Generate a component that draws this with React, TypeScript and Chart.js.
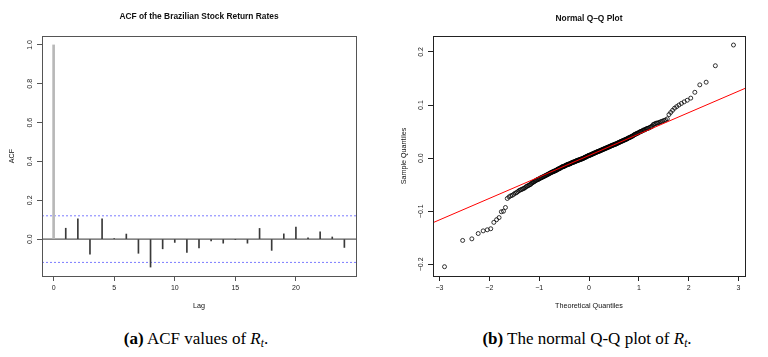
import React, { useEffect, useRef } from "react";
import { Chart, registerables } from "chart.js";
Chart.register(...registerables);

// ---------- DATA ----------
const ACF_LAGS = [0, 1, 2, 3, 4, 5, 6, 7, 8, 9, 10, 11, 12, 13, 14, 15, 16, 17, 18, 19, 20, 21, 22, 23, 24];
const ACF_VALUES = [1.0, 0.056, 0.104, -0.078, 0.104, 0.002, 0.026, -0.073, -0.144, -0.050, -0.017, -0.068, -0.046, -0.009, -0.021, -0.002, -0.021, 0.055, -0.058, 0.027, 0.062, 0.007, 0.038, 0.011, -0.043];
const ACF_CI = 0.12;
const ACF_X_TICKS = [0, 5, 10, 15, 20];
const ACF_X_LABELS = ["0", "5", "10", "15", "20"];
const ACF_Y_TICKS = [0, 0.2, 0.4, 0.6, 0.8, 1.0];
const ACF_Y_LABELS = ["0.0", "0.2", "0.4", "0.6", "0.8", "1.0"];

// sorted sample quantiles
const QQ_SAMPLE = [
  -0.2045, -0.155, -0.152, -0.142, -0.137, -0.135, -0.133, -0.121, -0.116, -0.112, -0.101, -0.100, -0.093, -0.076,
  -0.073, -0.071, -0.070, -0.068, -0.066, -0.065, -0.063, -0.061, -0.060, -0.059, -0.058,
  -0.057, -0.056, -0.054, -0.053, -0.052,
  -0.051, -0.050, -0.049, -0.047, -0.046,
  -0.045, -0.044, -0.043, -0.042, -0.041,
  -0.040, -0.040, -0.039, -0.038, -0.037,
  -0.037, -0.036, -0.035, -0.035, -0.034,
  -0.033, -0.033, -0.032, -0.031, -0.031, -0.030, -0.029, -0.029, -0.028, -0.027,
  -0.027, -0.026, -0.026, -0.025, -0.025, -0.024, -0.024, -0.023, -0.023, -0.022,
  -0.021, -0.021, -0.020, -0.020, -0.019, -0.019, -0.018, -0.017, -0.017, -0.016,
  -0.016, -0.016, -0.015, -0.015, -0.014, -0.014, -0.013, -0.013, -0.012, -0.012,
  -0.012, -0.011, -0.011, -0.011, -0.010, -0.010, -0.009, -0.009, -0.008, -0.008,
  -0.008, -0.007, -0.007, -0.007, -0.006, -0.006, -0.005, -0.005, -0.005, -0.004,
  -0.004, -0.004, -0.003, -0.003, -0.003, -0.002, -0.002, -0.002, -0.001, -0.001,
  -0.001, 0.000, 0.000, 0.001, 0.001, 0.002, 0.002, 0.002, 0.003, 0.0035,
  0.004, 0.004, 0.005, 0.005, 0.005, 0.006, 0.006, 0.006, 0.007, 0.007,
  0.008, 0.008, 0.008, 0.009, 0.009, 0.010, 0.010, 0.010, 0.011, 0.011,
  0.012, 0.012, 0.012, 0.013, 0.013, 0.013, 0.014, 0.014, 0.015, 0.015,
  0.015, 0.016, 0.016, 0.017, 0.017, 0.017, 0.018, 0.018, 0.019, 0.019,
  0.019, 0.020, 0.020, 0.021, 0.021, 0.021, 0.022, 0.022, 0.023, 0.023,
  0.024, 0.024, 0.024, 0.025, 0.025, 0.026, 0.026, 0.026, 0.027, 0.027,
  0.028, 0.028, 0.029, 0.029, 0.030, 0.030, 0.031, 0.031, 0.032, 0.032,
  0.033, 0.033, 0.034, 0.034, 0.035, 0.035, 0.036, 0.036, 0.037, 0.038,
  0.038, 0.039, 0.039, 0.040, 0.041, 0.041, 0.042, 0.043, 0.044, 0.045,
  0.045, 0.046, 0.047, 0.047, 0.048, 0.049, 0.050, 0.050, 0.051, 0.052,
  0.053, 0.053, 0.054, 0.055, 0.056, 0.056, 0.057, 0.058, 0.059, 0.060,
  0.063, 0.064, 0.065, 0.066, 0.066, 0.067, 0.068, 0.069, 0.070, 0.071, 0.072, 0.074,
  0.082, 0.086, 0.090, 0.094, 0.097, 0.100, 0.103, 0.106, 0.109, 0.113, 0.124, 0.138, 0.143, 0.174, 0.213,
];
const QQLINE_INTERCEPT = 0.0049;
const QQLINE_SLOPE = 0.0404;
const QQ_X_TICKS = [-3, -2, -1, 0, 1, 2, 3];
const QQ_X_LABELS = ["\u22123", "\u22122", "\u22121", "0", "1", "2", "3"];
const QQ_Y_TICKS = [-0.2, -0.1, 0, 0.1, 0.2];
const QQ_Y_LABELS = ["\u22120.2", "\u22120.1", "0.0", "0.1", "0.2"];

// ---------- helpers ----------
function qnorm(p: number): number {
  const a = [-3.969683028665376e1, 2.209460984245205e2, -2.759285104469687e2, 1.38357751867269e2, -3.066479806614716e1, 2.506628277459239];
  const b = [-5.447609879822406e1, 1.615858368580409e2, -1.556989798598866e2, 6.680131188771972e1, -1.328068155288572e1];
  const c = [-7.784894002430293e-3, -3.223964580411365e-1, -2.400758277161838, -2.549732539343734, 4.374664141464968, 2.938163982698783];
  const d = [7.784695709041462e-3, 3.224671290700398e-1, 2.445134137142996, 3.754408661907416];
  const pl = 0.02425;
  if (p < pl) {
    const q = Math.sqrt(-2 * Math.log(p));
    return (((((c[0] * q + c[1]) * q + c[2]) * q + c[3]) * q + c[4]) * q + c[5]) / ((((d[0] * q + d[1]) * q + d[2]) * q + d[3]) * q + 1);
  }
  if (p > 1 - pl) {
    const q = Math.sqrt(-2 * Math.log(1 - p));
    return -(((((c[0] * q + c[1]) * q + c[2]) * q + c[3]) * q + c[4]) * q + c[5]) / ((((d[0] * q + d[1]) * q + d[2]) * q + d[3]) * q + 1);
  }
  const q = p - 0.5;
  const r = q * q;
  return ((((((a[0] * r + a[1]) * r + a[2]) * r + a[3]) * r + a[4]) * r + a[5]) * q) / (((((b[0] * r + b[1]) * r + b[2]) * r + b[3]) * r + b[4]) * r + 1);
}

const FONT = '"Liberation Sans", Arial, Helvetica, sans-serif';
const PANEL_W = 384;
const PANEL_H = 320;

type TextCfg = {
  title: string;
  titleY: number;
  xTitle: string;
  xTitleY: number;
  yTitle: string;
  yTitleX: number;
  yLabelX: number;
  yTicks: number[];
  yLabels: string[];
  boxColor: string;
};

function panelPlugin(cfg: TextCfg) {
  return {
    id: "panelText",
    afterDraw(chart: any) {
      const { ctx, chartArea: a, scales } = chart;
      ctx.save();
      ctx.strokeStyle = cfg.boxColor;
      ctx.lineWidth = 1;
      ctx.setLineDash([]);
      ctx.strokeRect(Math.round(a.left) + 0.5, Math.round(a.top) + 0.5, Math.round(a.right - a.left), Math.round(a.bottom - a.top));
      ctx.fillStyle = "#111";
      ctx.textAlign = "center";
      ctx.textBaseline = "middle";
      const cx = (a.left + a.right) / 2;
      const cy = (a.top + a.bottom) / 2;
      ctx.font = `bold 8.4px ${FONT}`;
      ctx.fillText(cfg.title, cx, cfg.titleY);
      ctx.font = `7.2px ${FONT}`;
      ctx.fillText(cfg.xTitle, cx, cfg.xTitleY);
      ctx.save();
      ctx.translate(cfg.yTitleX, cy);
      ctx.rotate(-Math.PI / 2);
      ctx.fillText(cfg.yTitle, 0, 0);
      ctx.restore();
      ctx.fillStyle = "#222";
      ctx.font = `7px ${FONT}`;
      cfg.yTicks.forEach((v, i) => {
        const y = scales.y.getPixelForValue(v);
        ctx.save();
        ctx.translate(cfg.yLabelX, y);
        ctx.rotate(-Math.PI / 2);
        ctx.fillText(cfg.yLabels[i], 0, 0);
        ctx.restore();
      });
      ctx.restore();
    },
  };
}

function axisBase(color: string) {
  return {
    grid: { drawOnChartArea: false, drawTicks: true, tickLength: 5, color, offset: false },
    border: { display: true, color, width: 1 },
  };
}

function AcfChart() {
  const ref = useRef<HTMLCanvasElement>(null);
  useEffect(() => {
    if (!ref.current) return;
    const AX = "#555";
    const X_MIN = -0.96, X_MAX = 24.96;
    const chart = new Chart(ref.current, {
      type: "bar",
      data: {
        datasets: [
          {
            type: "bar",
            data: [{ x: ACF_LAGS[0], y: ACF_VALUES[0] }],
            backgroundColor: "#b8b8b8",
            barThickness: 2,
            grouped: false,
            borderWidth: 0,
          } as any,
          {
            type: "bar",
            data: ACF_LAGS.slice(1).map((l, i) => ({ x: l, y: ACF_VALUES[i + 1] })),
            backgroundColor: "#3a3a3a",
            barThickness: 1,
            grouped: false,
            borderWidth: 0,
          } as any,
          {
            type: "line",
            data: [{ x: X_MIN, y: 0 }, { x: X_MAX, y: 0 }],
            borderColor: "#333",
            borderWidth: 1,
            pointRadius: 0,
          } as any,
          {
            type: "line",
            data: [{ x: X_MIN, y: ACF_CI }, { x: X_MAX, y: ACF_CI }],
            borderColor: "rgba(90,90,255,0.8)",
            borderDash: [2, 2],
            borderWidth: 1,
            pointRadius: 0,
          } as any,
          {
            type: "line",
            data: [{ x: X_MIN, y: -ACF_CI }, { x: X_MAX, y: -ACF_CI }],
            borderColor: "rgba(90,90,255,0.8)",
            borderDash: [2, 2],
            borderWidth: 1,
            pointRadius: 0,
          } as any,
        ],
      },
      options: {
        responsive: false,
        animation: false,
        events: [],
        layout: { padding: { top: 36, right: 28, left: 0, bottom: 0 } },
        plugins: { legend: { display: false }, tooltip: { enabled: false } },
        scales: {
          x: {
            type: "linear",
            min: X_MIN,
            max: X_MAX,
            offset: false,
            ...axisBase(AX),
            afterBuildTicks: (ax: any) => { ax.ticks = ACF_X_TICKS.map((v) => ({ value: v })); },
            afterFit: (ax: any) => { ax.height = 44; },
            ticks: {
              autoSkip: false,
              maxRotation: 0,
              padding: 3,
              color: "#222",
              font: { family: FONT, size: 7 },
              callback: (v: any) => ACF_X_LABELS[ACF_X_TICKS.indexOf(Number(v))],
            },
          },
          y: {
            type: "linear",
            min: -0.19,
            max: 1.046,
            ...axisBase(AX),
            afterBuildTicks: (ax: any) => { ax.ticks = ACF_Y_TICKS.map((v) => ({ value: v })); },
            afterFit: (ax: any) => { ax.width = 42; },
            ticks: { display: false },
          },
        },
      } as any,
      plugins: [
        panelPlugin({
          title: "ACF of the Brazilian Stock Return Rates",
          titleY: 17,
          xTitle: "Lag",
          xTitleY: 306,
          yTitle: "ACF",
          yTitleX: 12,
          yLabelX: 30,
          yTicks: ACF_Y_TICKS,
          yLabels: ACF_Y_LABELS,
          boxColor: AX,
        }),
      ],
    });
    return () => chart.destroy();
  }, []);
  return <canvas ref={ref} width={PANEL_W} height={PANEL_H} style={{ position: "absolute", left: 0, top: 0, width: PANEL_W, height: PANEL_H }} />;
}

function QqChart() {
  const ref = useRef<HTMLCanvasElement>(null);
  useEffect(() => {
    if (!ref.current) return;
    const AX = "#222";
    const X_MIN = -3.13, X_MAX = 3.13;
    const n = QQ_SAMPLE.length;
    const pts = QQ_SAMPLE.map((y, i) => ({ x: qnorm((i + 1 - 0.5) / n), y }));
    const chart = new Chart(ref.current, {
      type: "scatter",
      data: {
        datasets: [
          {
            type: "line",
            data: [
              { x: X_MIN, y: QQLINE_INTERCEPT + QQLINE_SLOPE * X_MIN },
              { x: X_MAX, y: QQLINE_INTERCEPT + QQLINE_SLOPE * X_MAX },
            ],
            borderColor: "#ff0000",
            borderWidth: 1,
            pointRadius: 0,
            order: 0,
          } as any,
          {
            type: "scatter",
            data: pts,
            pointRadius: 2,
            pointBorderWidth: 0.8,
            pointBorderColor: "#000",
            pointBackgroundColor: "rgba(0,0,0,0)",
            order: 1,
          } as any,
        ],
      },
      options: {
        responsive: false,
        animation: false,
        events: [],
        layout: { padding: { top: 36, right: 23, left: 0, bottom: 0 } },
        plugins: { legend: { display: false }, tooltip: { enabled: false } },
        scales: {
          x: {
            type: "linear",
            min: X_MIN,
            max: X_MAX,
            ...axisBase(AX),
            afterBuildTicks: (ax: any) => { ax.ticks = QQ_X_TICKS.map((v) => ({ value: v })); },
            afterFit: (ax: any) => { ax.height = 44; },
            ticks: {
              autoSkip: false,
              maxRotation: 0,
              padding: 3,
              color: "#222",
              font: { family: FONT, size: 7 },
              callback: (v: any) => QQ_X_LABELS[QQ_X_TICKS.indexOf(Number(v))],
            },
          },
          y: {
            type: "linear",
            min: -0.222,
            max: 0.23,
            ...axisBase(AX),
            afterBuildTicks: (ax: any) => { ax.ticks = QQ_Y_TICKS.map((v) => ({ value: v })); },
            afterFit: (ax: any) => { ax.width = 49; },
            ticks: { display: false },
          },
        },
      } as any,
      plugins: [
        panelPlugin({
          title: "Normal Q\u2013Q Plot",
          titleY: 19,
          xTitle: "Theoretical Quantiles",
          xTitleY: 306,
          yTitle: "Sample Quantiles",
          yTitleX: 20,
          yLabelX: 37,
          yTicks: QQ_Y_TICKS,
          yLabels: QQ_Y_LABELS,
          boxColor: AX,
        }),
      ],
    });
    return () => chart.destroy();
  }, []);
  return <canvas ref={ref} width={PANEL_W} height={PANEL_H} style={{ position: "absolute", left: 384, top: 0, width: PANEL_W, height: PANEL_H }} />;
}

const capStyle: React.CSSProperties = {
  position: "absolute",
  top: 329,
  width: 400,
  textAlign: "center",
  fontFamily: '"Liberation Serif", "Times New Roman", serif',
  fontSize: 17,
  lineHeight: "19px",
  color: "#000",
  whiteSpace: "nowrap",
};
const subStyle: React.CSSProperties = { fontSize: 11.5, verticalAlign: "-3px", lineHeight: 0, fontStyle: "italic" };

export default function App() {
  return (
    <div style={{ position: "fixed", left: 0, top: 0, width: 768, height: 357, background: "#fff", overflow: "hidden" }}>
      <AcfChart />
      <QqChart />
      <div style={{ ...capStyle, left: 196 - 200 }}>
        <b>(a)</b> ACF values of <i>R</i><span style={subStyle}>t</span>.
      </div>
      <div style={{ ...capStyle, left: 587 - 200 }}>
        <b>(b)</b> The normal Q-Q plot of <i>R</i><span style={subStyle}>t</span>.
      </div>
    </div>
  );
}
